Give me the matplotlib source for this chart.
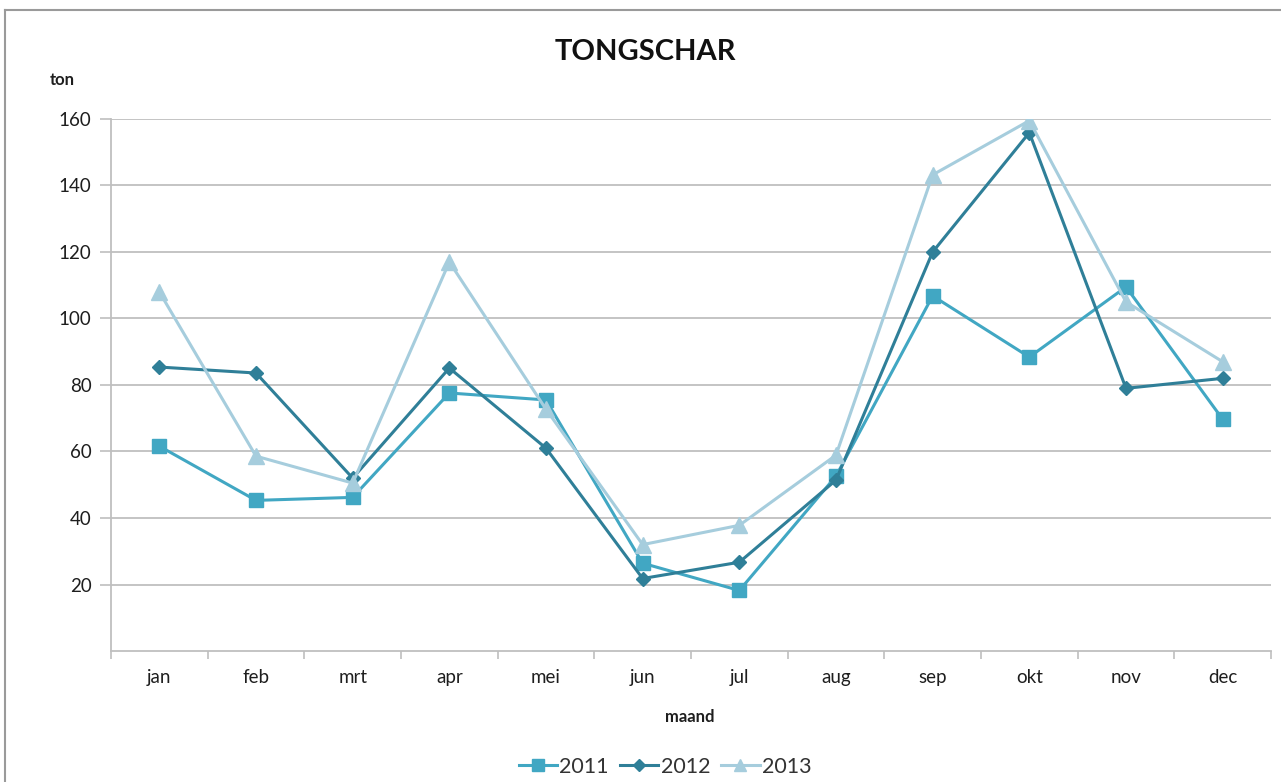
import matplotlib.pyplot as plt
from matplotlib.lines import Line2D

plt.rcParams['font.family'] = ['Lato', 'DejaVu Sans']

maanden = ['jan', 'feb', 'mrt', 'apr', 'mei', 'jun', 'jul', 'aug', 'sep', 'okt', 'nov', 'dec']
ton_2011 = [61.6, 45.3, 46.2, 77.6, 75.5, 26.4, 18.2, 52.6, 106.8, 88.4, 109.5, 69.7]
ton_2012 = [85.4, 83.6, 52.0, 85.1, 61.0, 21.8, 26.7, 51.4, 120.0, 155.9, 79.0, 82.0]
ton_2013 = [108.0, 58.6, 50.5, 117.0, 72.7, 32.0, 37.8, 58.9, 143.2, 159.5, 105.0, 87.0]

c2011 = '#41a7c3'
c2012 = '#2f7f98'
c2013 = '#a6cddd'
grid_col = '#bfbfbf'
txt = '#1e1e1e'

fig = plt.figure(figsize=(12.81, 7.82), dpi=100)
ax = fig.add_axes([111 / 1281, 1 - 651 / 782, (1271 - 111) / 1281, (651 - 119) / 782])

x = range(len(maanden))
ax.plot(x, ton_2011, color=c2011, lw=2.2, marker='s', ms=10.5, label='2011')
ax.plot(x, ton_2012, color=c2012, lw=2.2, marker='D', ms=7.5, label='2012')
ax.plot(x, ton_2013, color=c2013, lw=2.2, marker='^', ms=11, label='2013')

ax.set_xlim(-0.5, 11.5)
ax.set_ylim(0, 160)
ax.set_yticks(range(20, 161, 20))
ax.set_xticks(list(x))
ax.set_xticklabels(maanden)
ax.set_xticks([i - 0.5 for i in range(13)], minor=True)
ax.tick_params(axis='x', which='major', length=0, pad=13, labelsize=13.5, labelcolor=txt)
ax.tick_params(axis='x', which='minor', length=6, color=grid_col, width=1.2, direction='out')
ax.tick_params(axis='y', length=8, color=grid_col, width=1.2, pad=6, labelsize=13.5, labelcolor=txt)

ax.grid(axis='y', color=grid_col, lw=1.3)
ax.set_axisbelow(True)
for s in ['top', 'right']:
    ax.spines[s].set_visible(False)
for s in ['left', 'bottom']:
    ax.spines[s].set_color(grid_col)
    ax.spines[s].set_linewidth(1.3)

fig.text(645 / 1281, 1 - 52 / 782, 'TONGSCHAR', ha='center', va='center',
         fontsize=21, fontweight='bold', color='#111111')
fig.text(62 / 1281, 1 - 80 / 782, 'ton', ha='center', va='center',
         fontsize=12, fontweight='bold', color=txt)
fig.text(690 / 1281, 1 - 717 / 782, 'maand', ha='center', va='center',
         fontsize=12, fontweight='bold', color=txt)

handles = [Line2D([], [], color=c2011, lw=2.2, marker='s', ms=9),
           Line2D([], [], color=c2012, lw=2.2, marker='D', ms=6),
           Line2D([], [], color=c2013, lw=2.2, marker='^', ms=8)]
fig.legend(handles, ['2011', '2012', '2013'], loc='center', bbox_to_anchor=(665 / 1281, 1 - 767 / 782),
           ncol=3, frameon=False, fontsize=15.5, handlelength=1.8, handletextpad=0.1,
           columnspacing=0.5, labelcolor='#333333')

# outer chart border
fig.add_artist(Line2D([5 / 1281, 5 / 1281], [0, 1 - 10 / 782], color='#9a9a9a', lw=1.5,
                      transform=fig.transFigure))
fig.add_artist(Line2D([5 / 1281, 1], [1 - 10 / 782, 1 - 10 / 782], color='#9a9a9a', lw=1.5,
                      transform=fig.transFigure))

fig.savefig('out.png', dpi=100)
